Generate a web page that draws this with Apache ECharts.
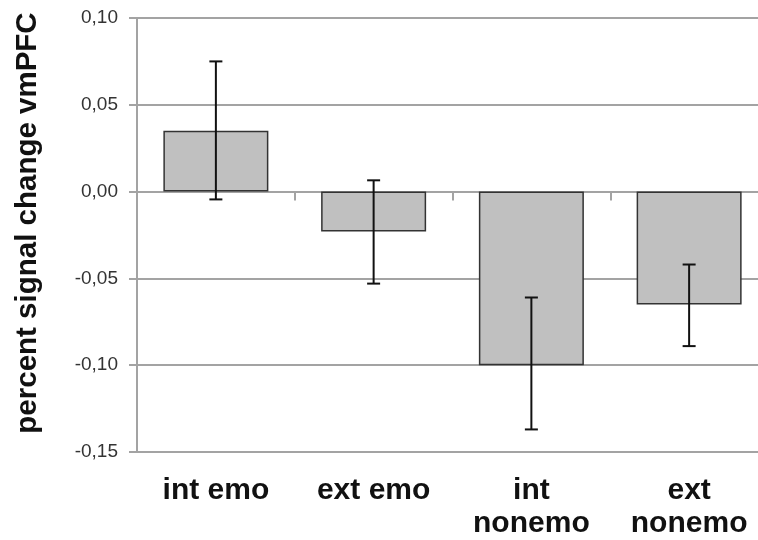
<!DOCTYPE html>
<html>
<head>
<meta charset="utf-8">
<script src="https://cdn.jsdelivr.net/npm/echarts@6/dist/echarts.min.js"></script>
<style>html,body{margin:0;padding:0;background:#fff}#c{width:758px;height:540px}</style>
</head>
<body>
<div id="c"></div>
<script>
const categories = ['int emo', 'ext emo', 'int\nnonemo', 'ext\nnonemo'];
const values = [0.035, -0.023, -0.100, -0.065];
const errHigh = [0.075, 0.0065, -0.061, -0.042];
const errLow = [-0.0045, -0.053, -0.137, -0.089];
const yTicks = [-0.15, -0.10, -0.05, 0.00, 0.05, 0.10];

const chart = echarts.init(document.getElementById('c'));
const errData = categories.map((c, i) => [i, errLow[i], errHigh[i]]);
const gridCol = '#a3a3a3';
chart.setOption({
  animation: false,
  grid: { left: 137, top: 18, height: 434, width: 631, outerBoundsMode: 'none', containLabel: false },
  xAxis: [{
    type: 'category', data: categories, position: 'bottom',
    axisLine: { show: true, onZero: true, lineStyle: { color: gridCol, width: 2 } },
    axisTick: { show: true, length: 9, lineStyle: { color: gridCol, width: 2 } },
    axisLabel: { show: false }, splitLine: { show: false }
  }, {
    type: 'category', data: categories, position: 'bottom',
    axisLine: { show: false, onZero: false }, axisTick: { show: false },
    axisLabel: { show: true, margin: 22, fontFamily: 'Liberation Sans, Arial, sans-serif',
      fontWeight: 'bold', fontSize: 30, color: '#111', lineHeight: 33, interval: 0 }
  }],
  yAxis: {
    type: 'value', min: yTicks[0], max: yTicks[yTicks.length - 1], interval: 0.05,
    name: 'percent signal change vmPFC', nameLocation: 'middle', nameGap: 94,
    nameTextStyle: { fontFamily: 'Liberation Sans, Arial, sans-serif', fontWeight: 'bold', fontSize: 29.5,
      color: '#111', padding: [0, 0, 0, 24] },
    axisLine: { show: true, lineStyle: { color: gridCol, width: 2 } },
    axisTick: { show: true, length: 8, lineStyle: { color: gridCol, width: 2 } },
    axisLabel: { margin: 19, fontFamily: 'Liberation Sans, Arial, sans-serif', fontSize: 19, color: '#333',
      formatter: v => v.toFixed(2).replace('.', ',') },
    splitLine: { show: true, lineStyle: { color: gridCol, width: 2 } }
  },
  series: [{
    type: 'bar', data: values, barWidth: 105, xAxisIndex: 0,
    itemStyle: { color: '#c0c0c0', borderColor: '#333', borderWidth: 1.5 }
  }, {
    type: 'custom', xAxisIndex: 0, data: errData, z: 10,
    renderItem: (params, api) => {
      const x = api.value(0);
      const lo = api.coord([x, api.value(1)]);
      const hi = api.coord([x, api.value(2)]);
      const cx = lo[0], w = 6.5;
      const st = { stroke: '#111', lineWidth: 2 };
      return { type: 'group', children: [
        { type: 'line', shape: { x1: cx, y1: lo[1], x2: cx, y2: hi[1] }, style: st },
        { type: 'line', shape: { x1: cx - w, y1: lo[1], x2: cx + w, y2: lo[1] }, style: st },
        { type: 'line', shape: { x1: cx - w, y1: hi[1], x2: cx + w, y2: hi[1] }, style: st }
      ]};
    }
  }]
});
</script>
</body>
</html>
